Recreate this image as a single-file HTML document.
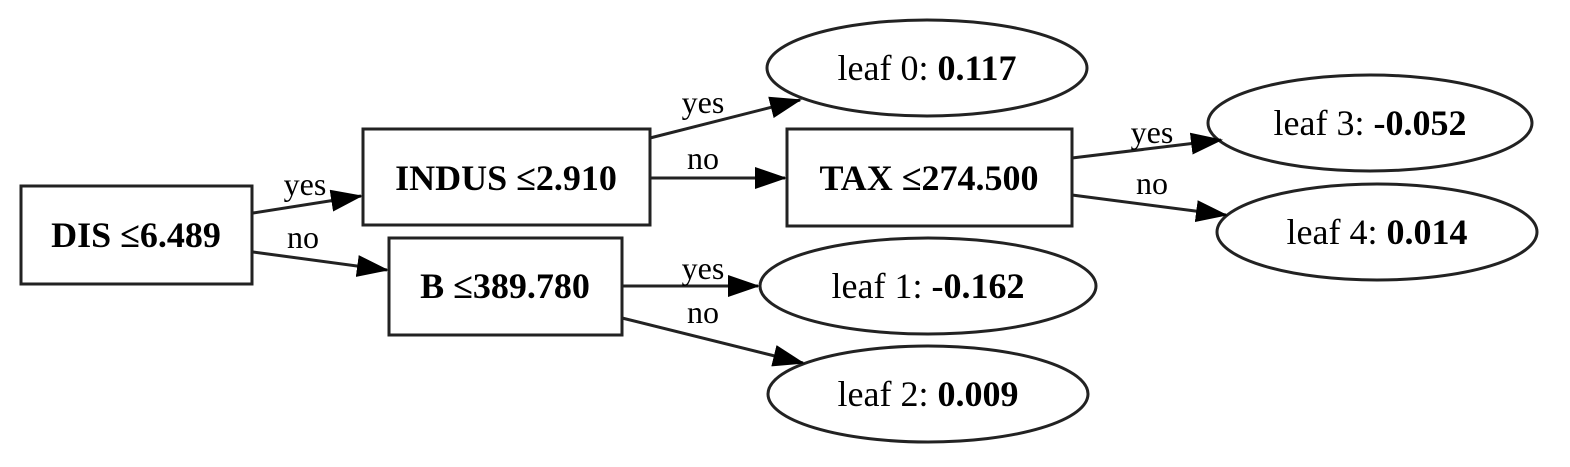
<!DOCTYPE html>
<html><head><style>body{margin:0;background:#fff}svg{display:block}</style></head><body>
<svg width="1570" height="467" viewBox="0 0 1570 467" xmlns="http://www.w3.org/2000/svg" font-family="Liberation Serif, serif" font-size="36">
<defs><marker id="a" markerWidth="32" markerHeight="22" refX="30" refY="11" orient="auto" markerUnits="userSpaceOnUse"><path d="M0,0 L32,11 L0,22 Z" fill="#000"/></marker></defs>
<g fill="none" stroke="#222" stroke-width="3">
<rect x="21" y="186" width="231" height="98" fill="#fff"/>
<rect x="363" y="129" width="287" height="96"/>
<rect x="389" y="238" width="233" height="97"/>
<rect x="787" y="129" width="285" height="97"/>
<ellipse cx="927" cy="68" rx="160" ry="48"/>
<ellipse cx="928" cy="286" rx="168" ry="48"/>
<ellipse cx="928" cy="394" rx="160" ry="48"/>
<ellipse cx="1370" cy="123" rx="162" ry="48"/>
<ellipse cx="1377" cy="232" rx="160" ry="48"/>
<g marker-end="url(#a)">
<line x1="253" y1="213" x2="361" y2="196"/>
<line x1="253" y1="252" x2="387" y2="270"/>
<line x1="650" y1="138" x2="800" y2="100"/>
<line x1="650" y1="178" x2="785" y2="178"/>
<line x1="622" y1="286" x2="758" y2="286"/>
<line x1="622" y1="318" x2="803" y2="363"/>
<line x1="1072" y1="158" x2="1221" y2="140"/>
<line x1="1072" y1="195" x2="1226" y2="215"/>
</g></g>
<g text-anchor="middle" fill="#000">
<text x="136" y="247" font-weight="bold">DIS ≤6.489</text>
<text x="506" y="190" font-weight="bold">INDUS ≤2.910</text>
<text x="505" y="298" font-weight="bold">B ≤389.780</text>
<text x="929" y="190" font-weight="bold">TAX ≤274.500</text>
<text x="927" y="80">leaf 0: <tspan font-weight="bold">0.117</tspan></text>
<text x="928" y="298">leaf 1: <tspan font-weight="bold">-0.162</tspan></text>
<text x="928" y="406">leaf 2: <tspan font-weight="bold">0.009</tspan></text>
<text x="1370" y="135">leaf 3: <tspan font-weight="bold">-0.052</tspan></text>
<text x="1377" y="244">leaf 4: <tspan font-weight="bold">0.014</tspan></text>
<g font-size="32">
<text x="305" y="195">yes</text>
<text x="303" y="248">no</text>
<text x="703" y="113">yes</text>
<text x="703" y="169">no</text>
<text x="703" y="279">yes</text>
<text x="703" y="323">no</text>
<text x="1152" y="143">yes</text>
<text x="1152" y="194">no</text>
</g></g>
</svg>
</body></html>
